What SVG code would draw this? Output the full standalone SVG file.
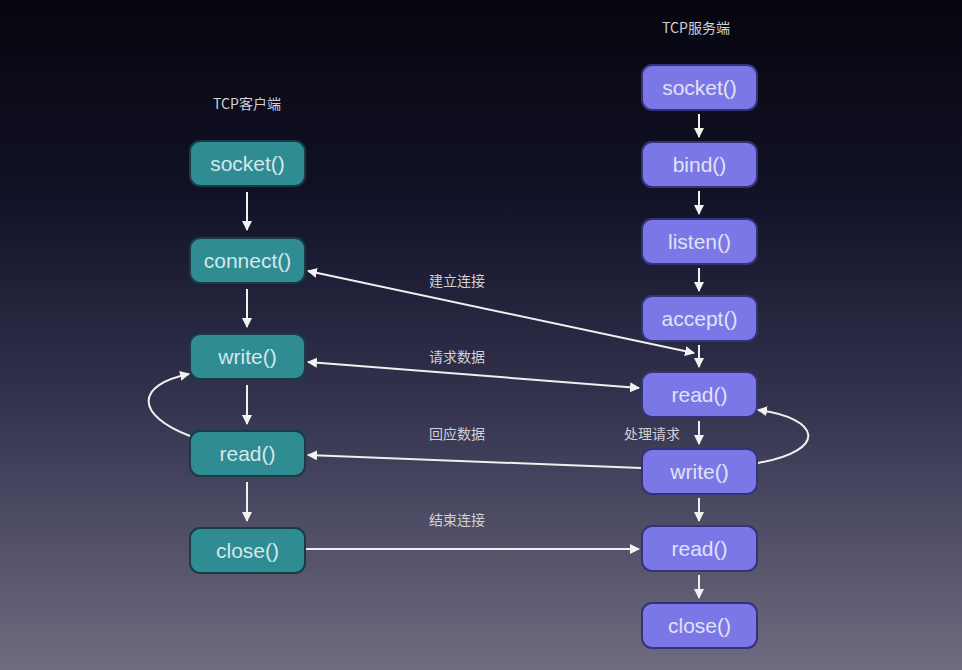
<svg xmlns="http://www.w3.org/2000/svg" width="962" height="670" viewBox="0 0 962 670">
<defs>
<linearGradient id="bg" x1="0" y1="0" x2="0" y2="1">
<stop offset="0" stop-color="#06060f"/>
<stop offset="0.3" stop-color="#121228"/>
<stop offset="0.6" stop-color="#33334f"/>
<stop offset="1" stop-color="#6f6c80"/>
</linearGradient>
<marker id="ah" viewBox="0 0 10 10" refX="9" refY="5" markerWidth="10" markerHeight="10" markerUnits="userSpaceOnUse" orient="auto-start-reverse">
<path d="M0,0 L10,5 L0,10 z" fill="#f2f2f2"/>
</marker>
<style>
.c rect{fill:#2f8c93;stroke:#173c44;stroke-width:2}
.s rect{fill:#7b77e6;stroke:#34337a;stroke-width:2}
.c text{fill:#d3e8ea}
.s text{fill:#e2e2f8}
text{font-family:"Liberation Sans","Noto Sans",Arial,sans-serif;font-size:21px;text-anchor:middle;dominant-baseline:central}
.lb{font-family:"Noto Sans CJK SC","Noto Sans",sans-serif;font-size:14px;fill:#d0d0d8}
.e path{fill:none;stroke:#f0f0f0;stroke-width:2;marker-end:url(#ah)}
.e .both{marker-start:url(#ah)}
</style>
</defs>
<rect width="962" height="670" fill="url(#bg)"/>
<text class="lb" x="247" y="103">TCP客户端</text>
<text class="lb" x="696" y="27">TCP服务端</text>
<g id="c_socket" class="c"><rect x="190" y="141" width="115" height="45" rx="10"/><text x="247.5" y="163.5">socket()</text></g>
<g id="c_connect" class="c"><rect x="190" y="238" width="115" height="45" rx="10"/><text x="247.5" y="260.5">connect()</text></g>
<g id="c_write" class="c"><rect x="190" y="334" width="115" height="45" rx="10"/><text x="247.5" y="356.5">write()</text></g>
<g id="c_read" class="c"><rect x="190" y="431" width="115" height="45" rx="10"/><text x="247.5" y="453.5">read()</text></g>
<g id="c_close" class="c"><rect x="190" y="528" width="115" height="45" rx="10"/><text x="247.5" y="550.5">close()</text></g>
<g id="s_socket" class="s"><rect x="642" y="65" width="115" height="45" rx="10"/><text x="699.5" y="87.5">socket()</text></g>
<g id="s_bind" class="s"><rect x="642" y="142" width="115" height="45" rx="10"/><text x="699.5" y="164.5">bind()</text></g>
<g id="s_listen" class="s"><rect x="642" y="219" width="115" height="45" rx="10"/><text x="699.5" y="241.5">listen()</text></g>
<g id="s_accept" class="s"><rect x="642" y="296" width="115" height="45" rx="10"/><text x="699.5" y="318.5">accept()</text></g>
<g id="s_read1" class="s"><rect x="642" y="372" width="115" height="45" rx="10"/><text x="699.5" y="394.5">read()</text></g>
<g id="s_write" class="s"><rect x="642" y="449" width="115" height="45" rx="10"/><text x="699.5" y="471.5">write()</text></g>
<g id="s_read2" class="s"><rect x="642" y="526" width="115" height="45" rx="10"/><text x="699.5" y="548.5">read()</text></g>
<g id="s_close" class="s"><rect x="642" y="603" width="115" height="45" rx="10"/><text x="699.5" y="625.5">close()</text></g>
<g id="connectors" class="e">
<path d="M247,192 V230"/>
<path d="M247,289 V327"/>
<path d="M247,385 V424"/>
<path d="M247,482 V521"/>
<path d="M699,114 V137"/>
<path d="M699,191 V214"/>
<path d="M699,268 V291"/>
<path d="M699,345 V367"/>
<path d="M699,421 V444"/>
<path d="M699,498 V521"/>
<path d="M699,575 V598"/>
<path class="both" d="M308,271 L694,353"/>
<path class="both" d="M308,362 L639,388"/>
<path d="M641,468 L308,455"/>
<path d="M306,549 L639,549"/>
<path d="M190,436 C135,415 135,385 189,374"/>
<path d="M758,463 C830,450 820,418 758,410"/>
</g>
<text class="lb" x="457" y="280">建立连接</text>
<text class="lb" x="457" y="356">请求数据</text>
<text class="lb" x="457" y="433">回应数据</text>
<text class="lb" x="457" y="519">结束连接</text>
<text class="lb" x="652" y="433">处理请求</text>
</svg>
